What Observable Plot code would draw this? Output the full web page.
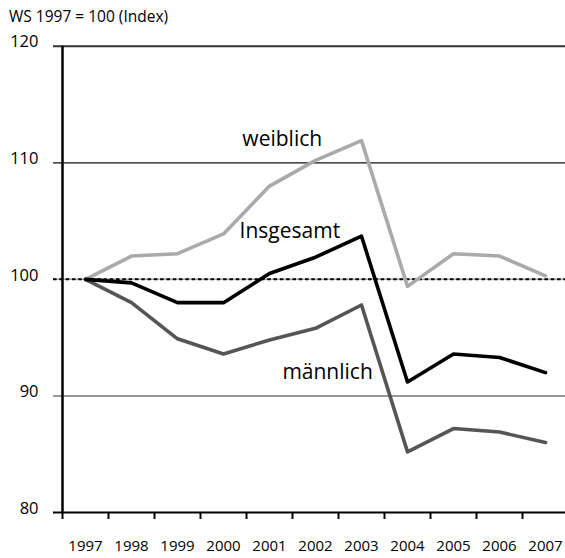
<!DOCTYPE html>
<html>
<head>
<meta charset="utf-8">
<script src="https://cdn.jsdelivr.net/npm/d3@7"></script>
<script src="https://cdn.jsdelivr.net/npm/@observablehq/plot@0.6"></script>
<style>
  html, body { margin: 0; padding: 0; background: #fff; }
  #title { height: 24px; font-family: "Open Sans", sans-serif; font-size: 15.5px; line-height: 24px; padding-left: 9px; color: #000; box-sizing: border-box; position: relative; top: 4px; }
  #chart svg { display: block; overflow: visible; }
</style>
</head>
<body>
<div id="title">WS 1997 = 100 (Index)</div>
<div id="chart"></div>
<script>
const years = [1997, 1998, 1999, 2000, 2001, 2002, 2003, 2004, 2005, 2006, 2007];
const weiblich  = [100, 102.0, 102.2, 103.9, 108.0, 110.2, 111.9, 99.4, 102.2, 102.0, 100.3];
const insgesamt = [100, 99.7, 98.0, 98.0, 100.5, 101.9, 103.7, 91.2, 93.6, 93.3, 92.0];
const maennlich = [100, 98.0, 94.9, 93.6, 94.8, 95.8, 97.8, 85.2, 87.2, 86.9, 86.0];
const yTicks = [80, 90, 100, 110, 120];
const seriesNames = ["weiblich", "Insgesamt", "männlich"];
const labelX = [2000.41, 2000.35, 2001.28];
const labelY = [112.0, 104.1, 92.0];

const rows = (vals, name) => years.map((yr, i) => ({year: yr, value: vals[i], series: name}));
const dataW = rows(weiblich, "weiblich");
const dataI = rows(insgesamt, "Insgesamt");
const dataM = rows(maennlich, "männlich");
const labels = seriesNames.map((s, i) => ({name: s, x: labelX[i], y: labelY[i]}));
const boundaries = years.map(y => y - 0.5);

const chart = Plot.plot({
  width: 565,
  height: 534,
  marginLeft: 53,
  marginRight: 0,
  marginTop: 21.7,
  marginBottom: 46,
  style: {fontFamily: "Open Sans, sans-serif", fontSize: "15px", color: "#000", background: "#fff"},
  x: {domain: [years[0] - 0.5, years[years.length - 1] + 0.5], range: [62, 568]},
  y: {domain: [80, 120]},
  marks: [
    Plot.ruleY([120], {stroke: "#333", strokeWidth: 2}),
    Plot.ruleY([110], {stroke: "#111", strokeWidth: 1.2}),
    Plot.ruleY([100], {stroke: "#aaa", strokeWidth: 1.5}),
    Plot.ruleY([100], {stroke: "#000", strokeWidth: 2, strokeDasharray: "3.6,2.7"}),
    Plot.ruleY([90], {stroke: "#777", strokeWidth: 1.6}),
    Plot.ruleY([80], {stroke: "#000", strokeWidth: 2.2}),
    Plot.ruleX([years[0] - 0.5], {stroke: "#000", strokeWidth: 2.5}),
    Plot.axisY({ticks: yTicks, tickSize: 0, tickPadding: 15, dy: -4, fontSize: 16.5, tickFormat: d => String(d)}),
    Plot.axisX({ticks: boundaries, tickSize: 7, strokeWidth: 2, stroke: "#000", tickFormat: () => ""}),
    Plot.axisX({ticks: years, tickSize: 0, tickPadding: 28, fontSize: 15, tickFormat: d => String(d)}),
    Plot.line(dataW, {x: "year", y: "value", stroke: "#aaaaaa", strokeWidth: 3.6}),
    Plot.line(dataM, {x: "year", y: "value", stroke: "#555555", strokeWidth: 3.6}),
    Plot.line(dataI, {x: "year", y: "value", stroke: "#000000", strokeWidth: 3.6}),
    Plot.text(labels, {x: "x", y: "y", text: "name", textAnchor: "start", fontSize: 21, fill: "#000"})
  ]
});
document.getElementById("chart").appendChild(chart);
</script>
</body>
</html>
